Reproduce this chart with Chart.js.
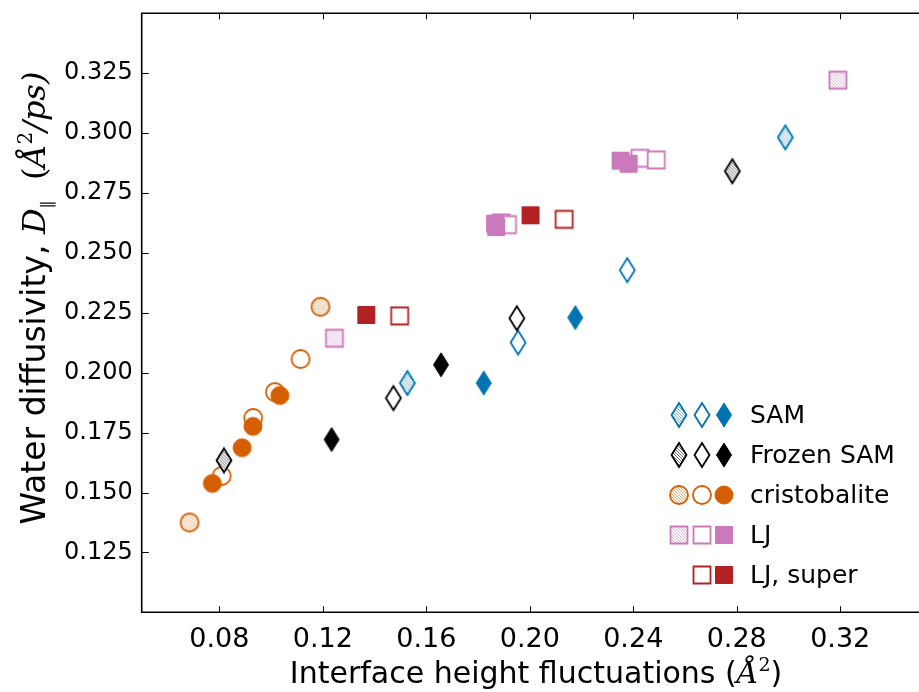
<!DOCTYPE html>
<html>
<head>
<meta charset="utf-8">
<title>Water diffusivity vs interface height fluctuations</title>
<script src="https://cdn.jsdelivr.net/npm/chart.js@4.4.0/dist/chart.umd.min.js"></script>
<style>
    html, body { margin: 0; padding: 0; background: #fff; overflow: hidden; }
    #wrap { width: 919px; height: 692px; }
</style>
</head>
<body>
<div id="wrap"><canvas id="scatterChart" width="919" height="692"></canvas></div>
<script>
// [interface height fluctuation, parallel diffusivity] per surface and run type
var samHatched = [[0.1527, 0.1957], [0.2988, 0.2982]];
var samOpen = [[0.1955, 0.2126], [0.2377, 0.2428]];
var samFilled = [[0.1822, 0.1957], [0.2176, 0.2230]];

var frozenHatched = [[0.0818, 0.1634], [0.2783, 0.2841]];
var frozenOpen = [[0.1473, 0.1894], [0.1950, 0.2227]];
var frozenFilled = [[0.1234, 0.1721], [0.1657, 0.2033]];

var cristHatched = [[0.0685, 0.1375], [0.1191, 0.2275]];
var cristOpen = [[0.0809, 0.1569], [0.0931, 0.1811], [0.1015, 0.1919], [0.1114, 0.2057]];
var cristFilled = [[0.0773, 0.1538], [0.0888, 0.1687], [0.0930, 0.1776], [0.1034, 0.1905]];

var ljHatched = [[0.1245, 0.2144], [0.3191, 0.3221]];
var ljOpen = [[0.1890, 0.2625], [0.1914, 0.2618], [0.2426, 0.2895], [0.2489, 0.2888]];
var ljFilled = [[0.1866, 0.2622], [0.1870, 0.2608], [0.2351, 0.2885], [0.2382, 0.2872]];

var superOpen = [[0.1497, 0.2237], [0.2133, 0.2640]];
var superFilled = [[0.1368, 0.2241], [0.2003, 0.2657]];

var seriesNames = ["SAM", "Frozen SAM", "cristobalite", "LJ", "LJ, super"];
var xTicks = [0.08, 0.12, 0.16, 0.20, 0.24, 0.28, 0.32];
var yTicks = [0.125, 0.150, 0.175, 0.200, 0.225, 0.250, 0.275, 0.300, 0.325];

var blue = "#0173B2", black = "#000000", orange = "#D55E00", pink = "#CC78BC", red = "#B22222";

// builds a marker bitmap: diamond / circle / square, filled, open or hatched
function makeMarker(shape, color, fill) {
    var c = document.createElement('canvas');
    var w = shape === 'diamond' ? 20 : 24;
    var h = shape === 'diamond' ? 30 : 24;
    c.width = w; c.height = h;
    var g = c.getContext('2d');
    var cx = w / 2, cy = h / 2;
    function trace() {
        g.beginPath();
        if (shape === 'diamond') {
            g.moveTo(cx, cy - 12); g.lineTo(cx + 7.5, cy); g.lineTo(cx, cy + 12); g.lineTo(cx - 7.5, cy);
            g.closePath();
        } else if (shape === 'circle') {
            g.arc(cx, cy, 9, 0, Math.PI * 2);
        } else {
            g.rect(cx - 8.5, cy - 8.5, 17, 17);
        }
    }
    trace();
    g.fillStyle = fill === 'filled' ? color : '#fff';
    g.fill();
    if (fill === 'hatched') {
        g.save();
        g.clip();
        g.strokeStyle = color;
        g.globalAlpha = 0.55;
        g.lineWidth = 1;
        for (var k = -h; k < w + h; k += 3) {
            g.beginPath(); g.moveTo(k, 0); g.lineTo(k + h, h); g.stroke();
        }
        g.restore();
        trace();
    }
    g.strokeStyle = color;
    g.lineWidth = fill === 'filled' ? 1 : 1.8;
    g.stroke();
    return c;
}

var markers = {};
[["SAM", 'diamond', blue], ["Frozen SAM", 'diamond', black], ["cristobalite", 'circle', orange],
 ["LJ", 'square', pink], ["LJ, super", 'square', red]].forEach(function (m) {
    markers[m[0]] = {
        hatched: makeMarker(m[1], m[2], 'hatched'),
        open: makeMarker(m[1], m[2], 'open'),
        filled: makeMarker(m[1], m[2], 'filled')
    };
});

function ds(points, style) {
    return {
        data: points.map(function (p) { return { x: p[0], y: p[1] }; }),
        pointStyle: style,
        pointRadius: 10,
        pointHoverRadius: 10,
        showLine: false,
        clip: false
    };
}

// first dataset is painted last (on top)
var datasets = [
    ds(cristFilled, markers["cristobalite"].filled),
    ds(ljFilled, markers["LJ"].filled),
    ds(superFilled, markers["LJ, super"].filled),
    ds(samFilled, markers["SAM"].filled),
    ds(frozenFilled, markers["Frozen SAM"].filled),
    ds(frozenHatched, markers["Frozen SAM"].hatched),
    ds(samHatched, markers["SAM"].hatched),
    ds(frozenOpen, markers["Frozen SAM"].open),
    ds(samOpen, markers["SAM"].open),
    ds(cristHatched, markers["cristobalite"].hatched),
    ds(cristOpen, markers["cristobalite"].open),
    ds(ljHatched, markers["LJ"].hatched),
    ds(ljOpen, markers["LJ"].open),
    ds(superOpen, markers["LJ, super"].open)
];

// draws a run of text pieces with their own fonts, centred on (cx, cy)
function drawRich(ctx, parts, cx, cy) {
    var total = 0;
    parts.forEach(function (p) { ctx.font = p.f; p.w = ctx.measureText(p.t).width; total += p.w; });
    var x = cx - total / 2;
    ctx.textBaseline = 'alphabetic';
    ctx.textAlign = 'left';
    parts.forEach(function (p) {
        ctx.font = p.f;
        ctx.fillText(p.t, x, cy + (p.dy || 0));
        x += p.w;
    });
}

var framePlugin = {
    id: 'frame',
    afterDraw: function (chart) {
        var ctx = chart.ctx, a = chart.chartArea;
        var xs = chart.scales.x, ys = chart.scales.y;
        ctx.save();
        // inward ticks
        ctx.strokeStyle = '#000';
        ctx.lineWidth = 1;
        xTicks.forEach(function (v) {
            var px = Math.round(xs.getPixelForValue(v)) + 0.5;
            ctx.beginPath(); ctx.moveTo(px, a.bottom); ctx.lineTo(px, a.bottom - 6); ctx.stroke();
            ctx.beginPath(); ctx.moveTo(px, a.top); ctx.lineTo(px, a.top + 6); ctx.stroke();
        });
        yTicks.forEach(function (v) {
            var py = Math.round(ys.getPixelForValue(v)) + 0.5;
            ctx.beginPath(); ctx.moveTo(a.left, py); ctx.lineTo(a.left + 7, py); ctx.stroke();
        });
        // axes box; its right side lies just past the canvas edge
        ctx.lineWidth = 1.6;
        ctx.beginPath();
        ctx.moveTo(chart.width + 2, a.top);
        ctx.lineTo(a.left, a.top);
        ctx.lineTo(a.left, a.bottom);
        ctx.lineTo(chart.width + 2, a.bottom);
        ctx.stroke();

        // axis titles
        ctx.fillStyle = '#000';
        drawRich(ctx, [
            { t: 'Interface height fluctuations (', f: '30px "DejaVu Sans"' },
            { t: 'Å', f: 'italic 30px "DejaVu Serif"' },
            { t: '2', f: '19px "DejaVu Serif"', dy: -12 },
            { t: ')', f: '30px "DejaVu Sans"' }
        ], 536, 683);
        ctx.save();
        ctx.translate(36, 298);
        ctx.rotate(-Math.PI / 2);
        drawRich(ctx, [
            { t: 'Water diffusivity, ', f: '33px "DejaVu Sans"' },
            { t: 'D', f: 'italic 32px "DejaVu Serif"' },
            { t: '\u2225', f: '16px "DejaVu Sans"', dy: 7 },
            { t: '  (', f: '32px "DejaVu Serif"' },
            { t: 'Å', f: 'italic 32px "DejaVu Serif"' },
            { t: '2', f: '20px "DejaVu Serif"', dy: -13 },
            { t: '/ps)', f: 'italic 32px "DejaVu Serif"' }
        ], 0, 9);
        ctx.restore();

        // legend: three run types per surface, then the name
        var rowY = [415, 455, 495, 535, 575];
        var colX = [679, 702, 724];
        ctx.font = '25px "DejaVu Sans"';
        ctx.textBaseline = 'middle';
        ctx.textAlign = 'left';
        seriesNames.forEach(function (name, i) {
            var m = markers[name];
            var kinds = name === "LJ, super" ? [null, 'open', 'filled'] : ['hatched', 'open', 'filled'];
            kinds.forEach(function (k, j) {
                if (!k) return;
                var img = m[k];
                ctx.drawImage(img, colX[j] - img.width / 2, rowY[i] - img.height / 2);
            });
            ctx.fillText(name, 750, rowY[i] + 1);
        });
        ctx.restore();
    }
};

// no extra room for edge labels: the plot box is placed by the layout padding alone
function noEdgePadding(s) {
    s.paddingTop = 0; s.paddingBottom = 0; s.paddingLeft = 0; s.paddingRight = 0;
}

var ctxS = document.getElementById("scatterChart").getContext('2d');
var scatterChart = new Chart(ctxS, {
    type: 'scatter',
    data: { datasets: datasets },
    options: {
        responsive: false,
        animation: false,
        devicePixelRatio: 1,
        layout: { padding: { top: 13.3, right: 0, left: 0, bottom: 0 } },
        plugins: {
            legend: { display: false },
            tooltip: { enabled: false }
        },
        scales: {
            x: {
                type: 'linear',
                min: 0.05,
                max: 0.3462,
                afterBuildTicks: function (s) { s.ticks = xTicks.map(function (v) { return { value: v }; }); },
                afterFit: function (s) { s.height = 79.7; noEdgePadding(s); },
                grid: { display: false, drawTicks: false },
                border: { display: false },
                ticks: {
                    color: '#000',
                    padding: 11,
                    maxRotation: 0,
                    autoSkip: false,
                    font: { family: 'DejaVu Sans', size: 27 },
                    callback: function (v) { return v.toFixed(2); }
                }
            },
            y: {
                type: 'linear',
                min: 0.10,
                max: 0.35,
                afterBuildTicks: function (s) { s.ticks = yTicks.map(function (v) { return { value: v }; }); },
                afterFit: function (s) { s.width = 141.7; noEdgePadding(s); },
                grid: { display: false, drawTicks: false },
                border: { display: false },
                ticks: {
                    color: '#000',
                    padding: 9,
                    autoSkip: false,
                    font: { family: 'DejaVu Sans', size: 24 },
                    callback: function (v) { return v.toFixed(3); }
                }
            }
        }
    },
    plugins: [framePlugin]
});
</script>
</body>
</html>
